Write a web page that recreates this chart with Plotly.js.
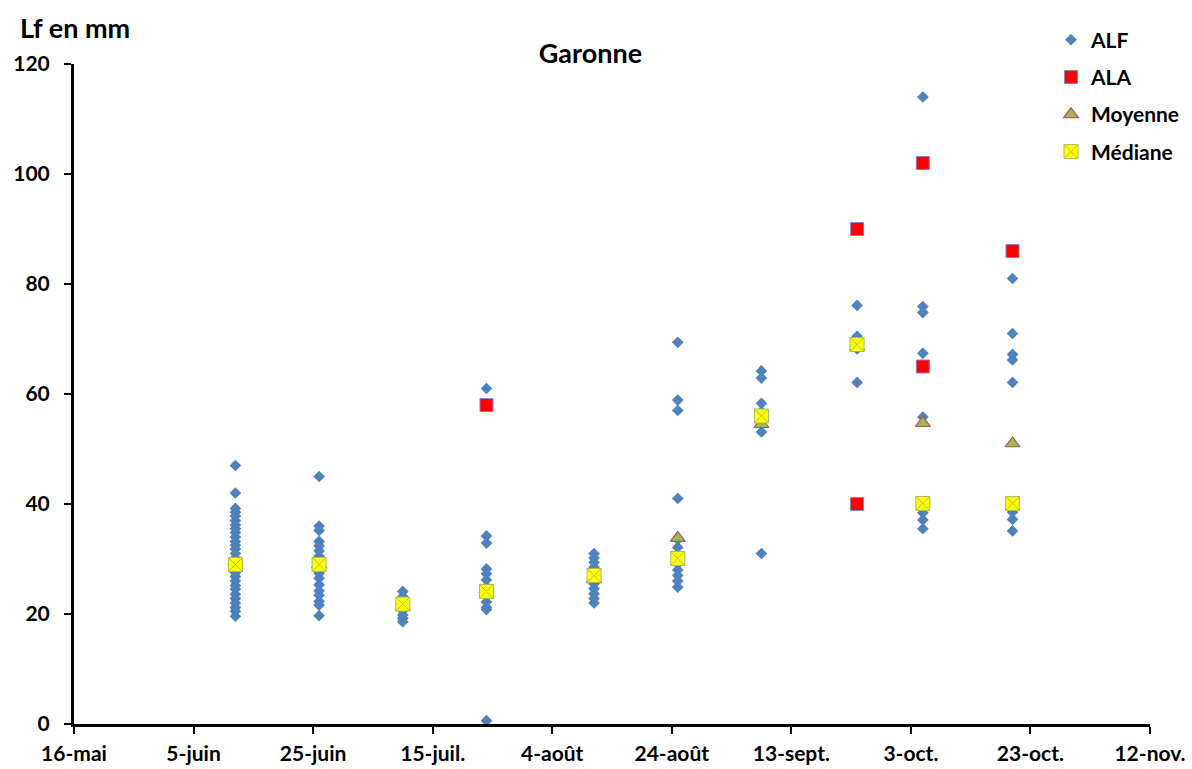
<!DOCTYPE html>
<html>
<head>
<meta charset="utf-8">
<script src="https://cdn.plot.ly/plotly-3.0.1.min.js"></script>
<style>html,body{margin:0;padding:0;background:#fff;}#chart{width:1192px;height:769px;}</style>
</head>
<body>
<div id="chart"></div>
<script>
// Sampling dates (one column of points per date)
const sampleDates = ['2012-06-12','2012-06-26','2012-07-10','2012-07-24','2012-08-11',
                     '2012-08-25','2012-09-08','2012-09-24','2012-10-05','2012-10-20'];

// ALF individual lengths (mm) per sampling date
const alfValues = [
  [47, 42, 39.2, 38.5, 37.8, 37, 36.2, 35.5, 34.8, 34, 33.2, 32.5, 31.8, 31, 30.2, 29.5, 28.5, 27.5, 26.8, 26, 25.2, 24.5, 23.6, 22.8, 22, 21.2, 20.5, 19.6],
  [45, 36, 35.2, 33.2, 32.4, 31.5, 30.5, 29.6, 28.3, 27.4, 26.5, 25.3, 24.2, 23.4, 22.3, 21.6, 19.7],
  [24.1, 23.2, 22.4, 21.5, 20.6, 19.8, 19.2, 18.6],
  [61, 34.2, 32.9, 28.2, 27.3, 26.2, 25, 23.5, 22.2, 21.2, 20.8, 0.6],
  [31, 30.2, 29.4, 28.5, 27.5, 26.4, 25.5, 24.6, 23.7, 22.8, 22],
  [69.4, 58.9, 57, 41, 33.5, 32.1, 30.8, 29.1, 28, 27, 26, 24.9],
  [64.2, 62.9, 58.3, 56.8, 53.1, 31],
  [76.1, 70.5, 68.2, 62.1],
  [114, 75.9, 74.8, 67.4, 55.8, 38.4, 37.1, 35.5],
  [81, 71, 67.2, 66.2, 62.1, 38.5, 37.2, 35.1]
];

// ALA individual lengths (mm)
const alaDates  = ['2012-07-24','2012-09-24','2012-09-24','2012-10-05','2012-10-05','2012-10-20'];
const alaValues = [58, 90, 40, 102, 65, 86];

// Mean and median per sampling date
const moyenneValues = [29.5, 29, 21.3, 24.5, 26.3, 33.8, 54.5, 68.6, 54.7, 51];
const medianeValues = [29, 29, 21.8, 24.1, 27, 30.1, 56, 69, 40.1, 40.1];

// Axis ticks
const tickDates  = ['2012-05-16','2012-06-05','2012-06-25','2012-07-15','2012-08-04',
                    '2012-08-24','2012-09-13','2012-10-03','2012-10-23','2012-11-12'];
const tickLabels = ['16-mai','5-juin','25-juin','15-juil.','4-août','24-août','13-sept.','3-oct.','23-oct.','12-nov.'];
const yTicks = [0, 20, 40, 60, 80, 100, 120];

const alfX = [], alfY = [];
sampleDates.forEach((d, i) => alfValues[i].forEach(v => { alfX.push(d); alfY.push(v); }));

const FONT = 'Lato, "Open Sans", sans-serif';

const traces = [
  {x: alfX, y: alfY, name: 'ALF', type: 'scatter', mode: 'markers', legendgroup: 'a',
   marker: {symbol: 'diamond', size: 9, color: '#4F81BD', line: {width: 0}}},
  {x: alaDates, y: alaValues, name: 'ALA', type: 'scatter', mode: 'markers', legendgroup: 'b',
   marker: {symbol: 'square', size: 13, color: '#FF0000', line: {width: 1, color: '#8F7FC0'}}},
  {x: sampleDates, y: moyenneValues, name: 'Moyenne', type: 'scatter', mode: 'markers', legendgroup: 'c',
   marker: {symbol: 'triangle-up', size: 13, color: '#9BBB59', line: {width: 1.2, color: '#C0504D'}}},
  {x: sampleDates, y: medianeValues, name: 'Médiane', type: 'scatter', mode: 'markers', legendgroup: 'd',
   marker: {symbol: 'square-x', size: 14, color: '#FFFF00', line: {width: 1, color: '#A9BD5A'}}}
];

const layout = {
  width: 1192, height: 769,
  margin: {l: 74, r: 42, t: 64, b: 45, autoexpand: false},
  paper_bgcolor: '#fff', plot_bgcolor: '#fff',
  font: {family: FONT, color: '#000', size: 20, weight: 'bold'},
  title: {text: '<b>Garonne</b>', x: 0.48, xref: 'paper', xanchor: 'center', y: 0.931, yref: 'container', yanchor: 'middle',
          font: {family: FONT, size: 27, color: '#000'}},
  showlegend: true,
  legend: {xref: 'container', yref: 'container', x: 0.8817, xanchor: 'left', y: 0.9746, yanchor: 'top',
           traceorder: 'grouped', tracegroupgap: 7,
           font: {family: FONT, size: 21, color: '#000', weight: 'bold'}, bgcolor: 'rgba(0,0,0,0)', itemwidth: 30},
  xaxis: {
    type: 'date', range: [tickDates[0], tickDates[tickDates.length - 1]], automargin: false,
    tickmode: 'array', tickvals: tickDates, ticktext: tickLabels,
    showgrid: false, zeroline: false, showline: true, linecolor: '#000', linewidth: 3,
    ticks: 'outside', ticklen: 7, tickwidth: 2, tickcolor: '#000', ticklabelstandoff: 2,
    tickfont: {family: FONT, size: 21, color: '#000', weight: 'bold'}
  },
  yaxis: {
    range: [0, 120], tickmode: 'array', tickvals: yTicks, automargin: false,
    showgrid: false, zeroline: false, showline: true, linecolor: '#000', linewidth: 3,
    ticks: 'outside', ticklen: 7, tickwidth: 2, tickcolor: '#000', ticklabelstandoff: 10,
    tickfont: {family: FONT, size: 21, color: '#000', weight: 'bold'}
  },
  annotations: [
    {text: '<b>Lf en mm</b>', xref: 'paper', yref: 'paper', x: -0.052, y: 1.056, xanchor: 'left', yanchor: 'middle',
     showarrow: false, font: {family: FONT, size: 27, color: '#000'}}
  ]
};

Plotly.newPlot('chart', traces, layout, {displayModeBar: false, staticPlot: true});
</script>
</body>
</html>
